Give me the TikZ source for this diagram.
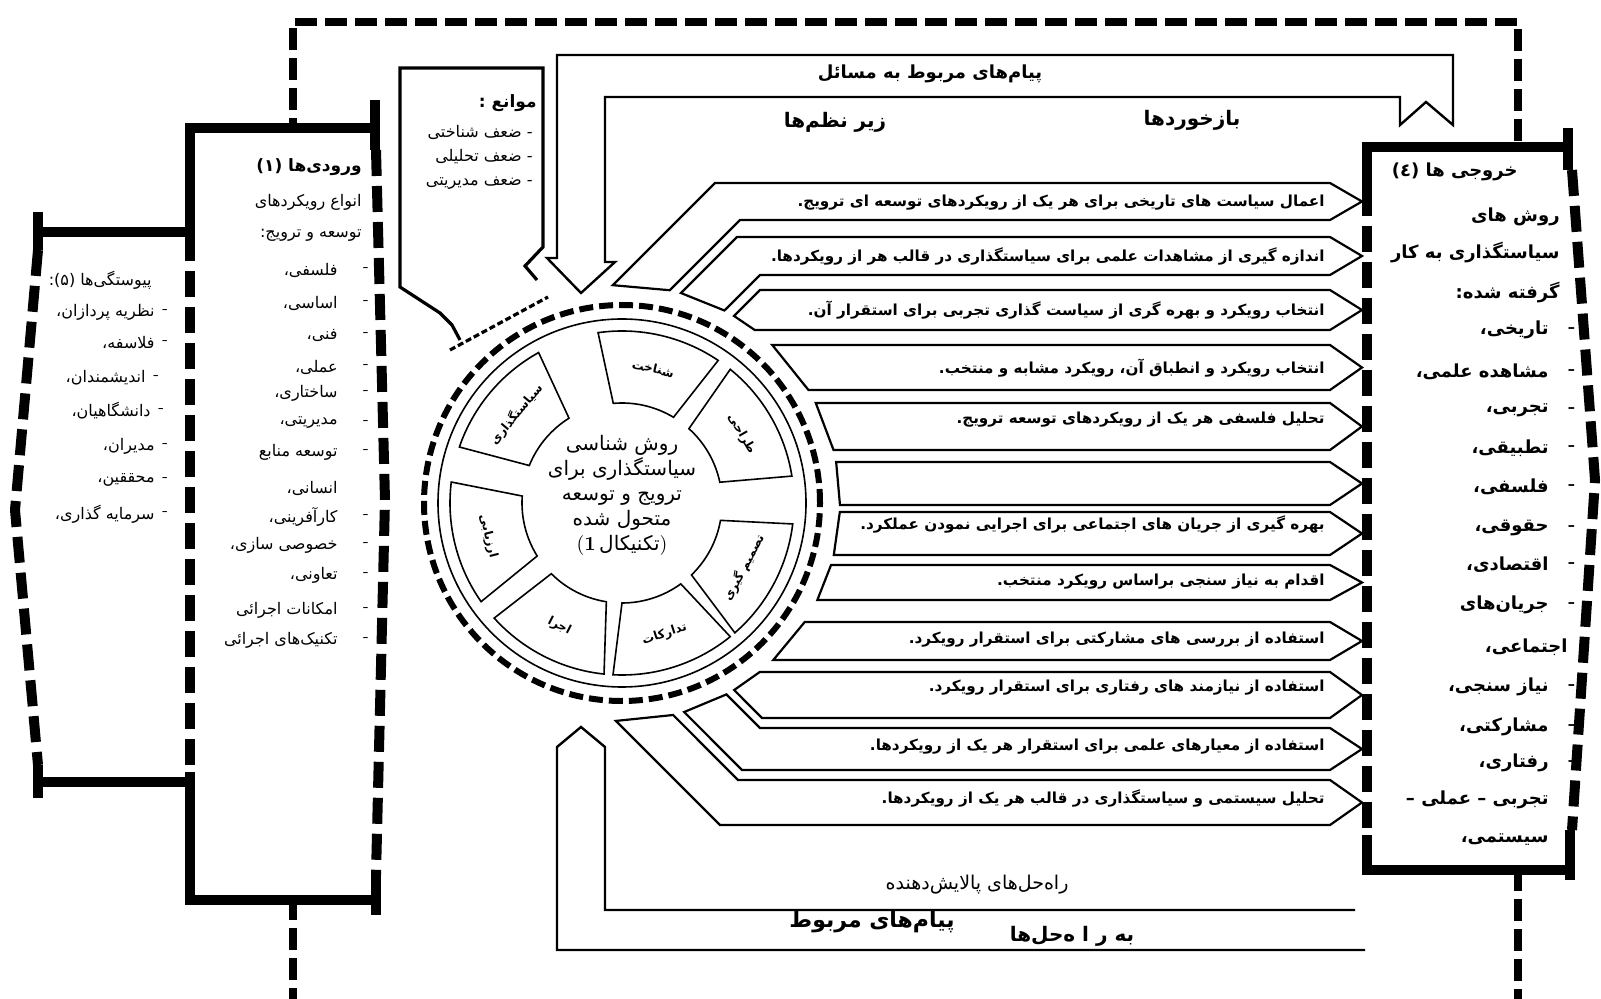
\documentclass[tikz,border=0pt]{standalone}
\usepackage{fontspec}
\usepackage{tikz}
\usetikzlibrary{intersections}
\newfontfamily\persianfont[Script=Arabic]{DejaVu Sans}
\TeXXeTstate=1
\newcommand{\prs}[1]{{\persianfont\beginR #1\endR}}
\tikzset{
    frame/.style={line width=4pt, dash pattern=on 11pt off 4pt},
    solidedge/.style={line width=5pt},
    dashedge/.style={line width=5pt, dash pattern=on 13pt off 5pt},
    loopline/.style={line width=1.2pt, line join=miter},
    band/.style={draw, line width=1.1pt, fill=white, line join=miter},
    segm/.style={draw, line width=0.8pt, fill=white},
    ring/.style={line width=3pt, dash pattern=on 7pt off 3pt},
    rowtext/.style={inner sep=0pt, font=\fontsize{7.6}{9}\selectfont\bfseries},
    listtext/.style={inner sep=0pt, font=\fontsize{8}{10}\selectfont},
    outtext/.style={inner sep=0pt, font=\fontsize{9}{11}\selectfont\bfseries},
    looptext/.style={inner sep=0pt, font=\fontsize{9}{11}\selectfont\bfseries},
    segtext/.style={inner sep=0pt, font=\fontsize{6}{7}\selectfont\bfseries},
    coretext/.style={inner sep=0pt, align=center, font=\fontsize{10}{12.5}\selectfont}
}

\begin{document}
\begin{tikzpicture}[x=0.5pt, y=-0.5pt]
\useasboundingbox (0,0) rectangle (1601,999);
\fill[white] (0,0) rectangle (1601,999);

% Outer frame
\draw[frame] (293,1010) -- (293,22) -- (1518,22) -- (1518,1010);

% Loops
\draw[loopline, fill=white] (1453,125) -- (1453,55) -- (557,55) -- (557,258) -- (547,258) -- (581,293) -- (615,262) -- (605,262) -- (605,97) -- (1400,97) -- (1400,125) -- (1426,102) -- cycle;
\draw[loopline] (1365,950) -- (557,950) -- (557,747) -- (581,727) -- (605,747) -- (605,910) -- (1355,910);

\node[looptext] (msgup) at (930,74) {\prs{پیام‌های مربوط به مسائل}};
\node[looptext, font=\fontsize{10}{12}\selectfont\bfseries] (subsys) at (835,122) {\prs{زیر نظم‌ها}};
\node[looptext, font=\fontsize{10}{12}\selectfont\bfseries] (feedback) at (1192,120) {\prs{بازخوردها}};
\node[looptext, font=\fontsize{9.5}{11}\selectfont] (refine) at (977,885) {\prs{راه‌حل‌های پالایش‌دهنده}};
\node[looptext, font=\fontsize{11}{12}\selectfont\bfseries] (msgdown) at (872,922) {\prs{پیام‌های مربوط}};
\node[looptext, font=\fontsize{10}{12}\selectfont\bfseries] (tosol) at (1072,936) {\prs{به  ر ا ه‌حل‌ها}};

% Obstacles
\draw[line width=1.6pt, fill=white] (537,280) -- (525,266) -- (543,247) -- (543,68) -- (400,68) -- (400,287) -- (440,313) -- (452,325) -- (460,340);
\draw[line width=1.6pt, dash pattern=on 3pt off 1.5pt] (450,350) -- (548,297);
\node[listtext, anchor=east, font=\fontsize{8.5}{10}\selectfont\bfseries] (obst) at (537,103) {\prs{موانع :}};
\node[listtext, anchor=east] (obst1) at (533,132) {\prs{- ضعف شناختی}};
\node[listtext, anchor=east] (obst2) at (533,157) {\prs{- ضعف تحلیلی}};
\node[listtext, anchor=east] (obst3) at (533,183) {\prs{- ضعف مدیریتی}};

% Bands to outputs
\path[name path=land] (622,503) circle[radius=218];
\foreach \yt/\bt/\dt/\yb/\bb/\db/\ty/\txt in {
    183/715/1/220/740/1/203/{اعمال سیاست های تاریخی برای هر یک از رویکردهای توسعه ای ترویج.},
    237/737/1/275/760/1/256/{اندازه گیری از مشاهدات علمی برای سیاستگذاری در قالب هر از رویکردها.},
    290/760/1/330/1000/0/310/{انتخاب رویکرد و بهره گری از سیاست گذاری تجربی برای استقرار آن.},
    345/1000/0/390/1000/0/368/{انتخاب رویکرد و انطباق آن، رویکرد مشابه و منتخب.},
    403/1000/0/450/1000/0/420/{تحلیل فلسفی هر یک از رویکردهای توسعه ترویج.},
    462/1000/0/505/1000/0/484/{},
    512/1000/0/555/1000/0/524/{بهره گیری از جریان های اجتماعی برای اجرایی نمودن عملکرد.},
    565/1000/0/600/1000/0/582/{اقدام به نیاز سنجی براساس رویکرد منتخب.},
    622/1000/0/660/1000/0/640/{استفاده از بررسی های مشارکتی برای استقرار رویکرد.},
    672/1000/0/718/762/-1/688/{استفاده از نیازمند های رفتاری برای استقرار رویکرد.},
    728/760/-1/770/742/-1/747/{استفاده از معیارهای علمی برای استقرار هر یک از رویکردها.},
    780/738/-1/825/720/-1/798/{تحلیل سیستمی و سیاستگذاری در قالب هر یک از رویکردها.}}
{
    \path[name path=upper] (\bt,\yt) -- ++(-300,300*\dt);
    \path[name path=lower] (\bb,\yb) -- ++(-300,300*\db);
    \path[name intersections={of=land and upper, sort by=upper, by=lt}];
    \path[name intersections={of=land and lower, sort by=lower, by=lb}];
    \draw[band] (lt) -- (\bt,\yt) -- (1330,\yt) -- (1362,{(\yt+\yb)/2}) -- (1330,\yb) -- (\bb,\yb) -- (lb) -- cycle;
    \node[rowtext, anchor=east] (row\yt) at (1325,\ty) {\prs{\txt}};
}

% Process circle
\begin{scope}[shift={(622,503)}, yscale=-1]
    \draw[line width=0.8pt] (0,0) circle[radius=184];
    \draw[ring] (0,0) circle[radius=198];
    \foreach \a/\lab/\rot in {77/شناخت/-13, 30/طراحی/-60, -28/تصمیم گیری/62, -72/تدارکات/18, -117/اجرا/-27, -166/ارزیابی/-76, 140/سیاستگذاری/50}
    {
        \draw[segm] (\a-18:100) -- (\a-21:172) arc[start angle=\a-21, end angle=\a+21, radius=172] -- (\a+18:100) arc[start angle=\a+18, end angle=\a-18, radius=100] -- cycle;
        \node[segtext, rotate=\rot] (seg\a) at (\a:138) {\prs{\lab}};
    }
    \node[coretext] (core) at (0,8) {\prs{روش شناسی}\\ \prs{سیاستگذاری برای}\\ \prs{ترویج و توسعه}\\ \prs{متحول شده}\\ (\textbf{1}\,{\persianfont تکنیکال})};
\end{scope}

% Links box (5)
\draw[solidedge] (38,212) -- (38,250);
\draw[solidedge] (38,232) -- (190,232);
\draw[dashedge] (38,250) -- (15,510) -- (38,765);
\draw[solidedge] (38,765) -- (38,798);
\draw[solidedge] (38,782) -- (190,782);
\node[listtext, anchor=east] (links) at (152,280) {\prs{پیوستگی‌ها (۵):}};
\foreach \y/\x/\t in {312/155/نظریه پردازان،, 343/155/فلاسفه،, 378/146/اندیشمندان،, 411/151/دانشگاهیان،, 446/155/مدیران،, 480/155/محققین،, 514/155/سرمایه گذاری،}
{
    \node[listtext, anchor=east] (link\y) at (\x,\y) {\prs{\t}};
    \node[listtext, anchor=west] (linkd\y) at (\x+7,\y) {-};
}

% Inputs box (1)
\fill[white] (190,128) rectangle (383,900);
\draw[solidedge] (190,235) -- (190,128) -- (375,128);
\draw[solidedge] (375,100) -- (375,150);
\draw[dashedge] (190,235) -- (190,772);
\draw[solidedge] (190,772) -- (190,900) -- (376,900);
\draw[solidedge] (376,875) -- (376,915);
\draw[dashedge] (376,150) -- (385,500) -- (376,875);
\node[listtext, anchor=east, font=\fontsize{8.5}{10}\selectfont\bfseries] (inputs) at (362,167) {\prs{ورودی‌ها (۱)}};
\node[listtext, anchor=east] (in1) at (362,202) {\prs{انواع رویکردهای}};
\node[listtext, anchor=east] (in2) at (362,235) {\prs{توسعه و ترویج:}};
\foreach \y/\t/\d in {270/فلسفی،/-, 303/اساسی،/-, 335/فنی،/-, 367/عملی،/-, 393/ساختاری،/-, 423/مدیریتی،/-, 452/توسعه منابع/-, 488/انسانی،/{}, 517/کارآفرینی،/-, 545/خصوصی سازی،/-, 575/تعاونی،/-, 610/امکانات اجرائی/-, 640/تکنیک‌های اجرائی/-}
{
    \node[listtext, anchor=east] (inp\y) at (338,\y) {\prs{\t}};
    \node[listtext] (inpd\y) at (366,\y) {\d};
}

% Outputs box (4)
\fill[white] (1367,147) rectangle (1590,870);
\draw[solidedge] (1367,190) -- (1367,147) -- (1568,147);
\draw[solidedge] (1568,128) -- (1568,170);
\draw[dashedge] (1367,190) -- (1367,835);
\draw[solidedge] (1367,835) -- (1367,870) -- (1570,870);
\draw[solidedge] (1570,830) -- (1570,880);
\draw[dashedge] (1572,170) -- (1595,480) -- (1572,830);
\node[outtext, anchor=east] (outputs) at (1518,172) {\prs{خروجی ها (٤)}};
\node[outtext, anchor=east] (out1) at (1560,217) {\prs{روش های}};
\node[outtext, anchor=east] (out2) at (1560,253) {\prs{سیاستگذاری به کار}};
\node[outtext, anchor=east] (out3) at (1560,293) {\prs{گرفته شده:}};
\foreach \y/\t/\d in {330/تاریخی،/-, 372/مشاهده علمی،/-, 410/تجربی،/-, 448/تطبیقی،/-, 487/فلسفی،/-, 528/حقوقی،/-, 565/اقتصادی،/-, 605/جریان‌های/-, 687/نیاز سنجی،/-, 727/مشارکتی،/-, 763/رفتاری،/-, 800/تجربی – عملی –/{}, 840/سیستمی،/{}}
{
    \node[outtext, anchor=east] (outp\y) at (1549,\y) {\prs{\t}};
    \node[outtext] (outd\y) at (1572,\y) {\d};
}
\node[outtext, anchor=east] (out4) at (1568,647) {\prs{اجتماعی،}};
\end{tikzpicture}
\end{document}
